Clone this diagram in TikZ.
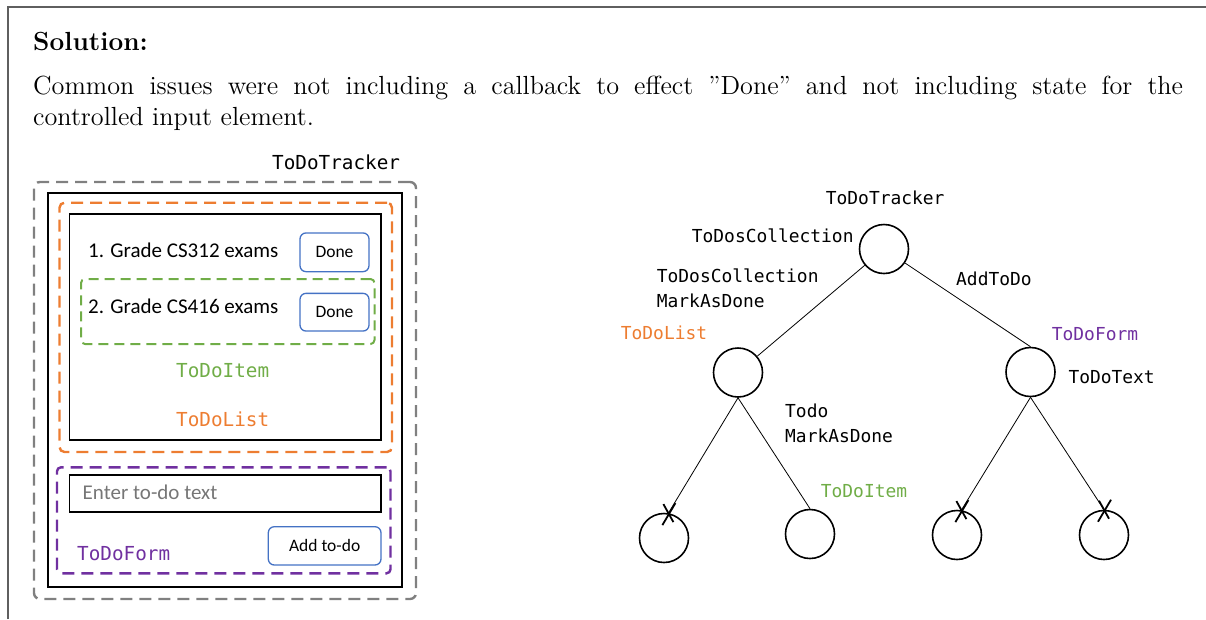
\documentclass[tikz,border=0pt]{standalone}
\usepackage{fontspec}
\newfontfamily\uifont{Carlito}
\newfontfamily\codefont{DejaVu Sans Mono}
\usetikzlibrary{calc}

\definecolor{tdorange}{RGB}{237,125,49}
\definecolor{tdgreen}{RGB}{112,173,71}
\definecolor{tdpurple}{RGB}{112,48,160}
\definecolor{tdblue}{RGB}{68,114,196}
\definecolor{tdgray}{RGB}{128,128,128}
\definecolor{hintgray}{RGB}{118,118,118}
\definecolor{rulegray}{RGB}{95,95,95}

\tikzset{
  dashframe/.style={line width=2.4pt, dash pattern=on 12pt off 7pt, inner sep=0},
  grayframe/.style={dashframe, draw=tdgray, rounded corners=6pt},
  orangeframe/.style={dashframe, draw=tdorange, rounded corners=5pt},
  greenframe/.style={dashframe, draw=tdgreen, line width=2pt, dash pattern=on 10pt off 6pt, rounded corners=4pt},
  purpleframe/.style={dashframe, draw=tdpurple, rounded corners=4pt},
  solidbox/.style={draw=black, line width=1.8pt, inner sep=0},
  btn/.style={draw=tdblue, line width=1.3pt, rounded corners=6pt, inner sep=0,
    font=\uifont\fontsize{17.5}{20}\selectfont},
  uitext/.style={anchor=base west, inner sep=0, font=\uifont\fontsize{21}{24}\selectfont},
  code/.style={anchor=base west, inner sep=0, font=\codefont\fontsize{19.3}{23}\selectfont},
  treelabel/.style={anchor=base west, inner sep=0, font=\codefont\fontsize{17.9}{22}\selectfont},
  vertex/.style={circle, draw, line width=1.6pt, minimum size=49pt, inner sep=0},
  edge/.style={line width=0.8pt},
  xmark/.style={line width=1.8pt},
}

\begin{document}
\begin{tikzpicture}[x=1pt, y=-1pt]
\useasboundingbox (0,0) rectangle (1206,619);

% page frame
\draw[rulegray, line width=1.5pt] (8,619) -- (8,7) -- (1206,7);

% heading and remark
\node[anchor=base west, inner sep=0] (heading) at (33,50)
  {\scalebox{2.1833}{\fontsize{12}{14.2}\selectfont\bfseries Solution:}};
\node[anchor=base west, inner sep=0] (remark) at (33,94)
  {\scalebox{2.1833}{\parbox[t]{526.7pt}{\fontsize{12}{14.2}\selectfont
   Common issues were not including a callback to effect ”Done” and not including state for the\linebreak
   controlled input element.}}};

% ---------- component mock-up ----------
\node[grayframe, minimum width=382pt, minimum height=417pt] (trackerbox) at (225,390.5) {};
\node[code] (trackerlbl) at (272,169) {ToDoTracker};
\node[solidbox, minimum width=354pt, minimum height=394pt] (appbox) at (225,389.7) {};

\node[orangeframe, minimum width=332.5pt, minimum height=249.3pt] (listframe) at (225.75,327.35) {};
\node[solidbox, minimum width=311.5pt, minimum height=226pt] (listbox) at (225.25,327) {};
\node[uitext] (item1) at (88,257) {1. Grade CS312 exams};
\node[btn, minimum width=69pt, minimum height=38.7pt] (done1) at (334.5,252.3) {Done};

\node[greenframe, minimum width=293.5pt, minimum height=65pt] (itemframe) at (227.75,311.5) {};
\node[uitext] (item2) at (88,313.3) {2. Grade CS416 exams};
\node[btn, minimum width=69pt, minimum height=37.7pt] (done2) at (334.5,312.2) {Done};

\node[code, text=tdgreen] (itemlbl) at (176,377.7) {ToDoItem};
\node[code, text=tdorange] (listlbl) at (176,426.7) {ToDoList};

\node[purpleframe, minimum width=333.5pt, minimum height=106pt] (formframe) at (223.75,520.3) {};
\node[solidbox, minimum width=311.5pt, minimum height=37.6pt] (inputbox) at (225.25,493.5) {};
\node[uitext, text=hintgray] (hint) at (82.5,499) {Enter to-do text};
\node[btn, minimum width=112.7pt, minimum height=38.3pt] (addbtn) at (324.65,545.85) {Add to-do};
\node[code, text=tdpurple] (formlbl) at (77,560) {ToDoForm};

% ---------- component tree ----------
\node[vertex] (root) at (884,249) {};
\node[vertex] (L) at (738,372.5) {};
\node[vertex] (C) at (1030.5,372) {};
\node[vertex] (LL) at (664,538) {};
\node[vertex] (LR) at (810,534) {};
\node[vertex] (RL) at (957,535) {};
\node[vertex] (RR) at (1104,535) {};

\coordinate (xLL) at (LL.80);
\coordinate (xRL) at (RL.80);
\coordinate (xRR) at (RR.north);

\draw[edge] (root) -- (L);
\draw[edge] (root) -- (C.north);
\draw[edge] (L.south) -- (xLL);
\draw[edge] (L.south) -- (LR.north);
\draw[edge] (C.south) -- (xRL);
\draw[edge] (C.south) -- (xRR);

\foreach \p in {xLL,xRL,xRR}{
  \draw[xmark] ($(\p)+(-5,-9)$) -- ($(\p)+(5,9)$);
  \draw[xmark] ($(\p)+(7,-10)$) -- ($(\p)+(-6,12)$);
}

\node[treelabel] (tTracker) at (825.7,204) {ToDoTracker};
\node[treelabel] (tColl) at (691.7,242.3) {ToDosCollection};
\node[treelabel] (tColl2) at (656.7,282.7) {ToDosCollection};
\node[treelabel] (tMark) at (656.7,307.7) {MarkAsDone};
\node[treelabel, text=tdorange] (tList) at (620.7,339.3) {ToDoList};
\node[treelabel] (tAdd) at (956,285.5) {AddToDo};
\node[treelabel, text=tdpurple] (tForm) at (1051.7,340) {ToDoForm};
\node[treelabel] (tText) at (1068.3,383.3) {ToDoText};
\node[treelabel] (tTodo) at (785,417) {Todo};
\node[treelabel] (tMark2) at (785,442) {MarkAsDone};
\node[treelabel, text=tdgreen] (tItem) at (820.7,497) {ToDoItem};
\end{tikzpicture}
\end{document}
